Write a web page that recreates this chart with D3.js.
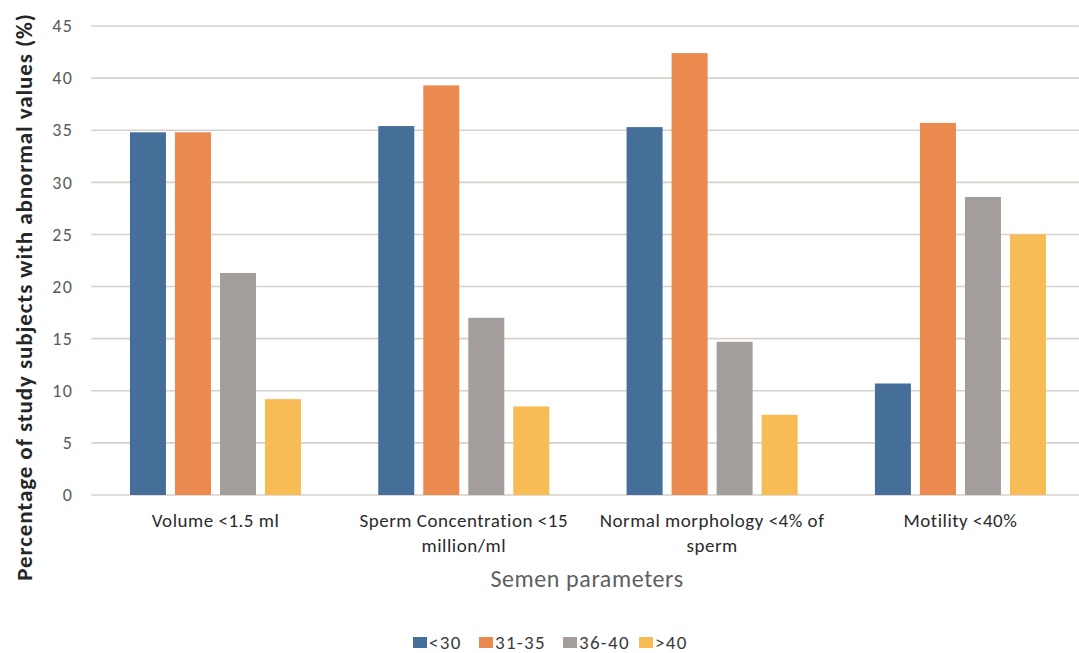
<!DOCTYPE html>
<html>
<head>
<meta charset="utf-8">
<script src="https://cdn.jsdelivr.net/npm/d3@7"></script>
<style>
  html, body { margin: 0; padding: 0; background: #ffffff; }
  svg { display: block; }
  text { font-family: Calibri, Carlito, Lato, "Open Sans", sans-serif; }
</style>
</head>
<body>
<svg id="chart" width="1079" height="653"></svg>
<script>
// Semen parameters (x categories), each label split into lines
const categories = [
  "Volume <1.5 ml",
  "Sperm Concentration <15 million/ml",
  "Normal morphology <4% of sperm",
  "Motility <40%"
];
const categoryLines = [
  ["Volume <1.5 ml"],
  ["Sperm Concentration <15", "million/ml"],
  ["Normal morphology <4% of", "sperm"],
  ["Motility <40%"]
];

// Age groups (series)
const ageGroups = ["<30", "31-35", "36-40", ">40"];
const colors = ["#456f98", "#ea8a4e", "#a39d9b", "#f8bc57"];

// Percentage of study subjects with abnormal values, per age group
const under30 = [34.8, 35.4, 35.3, 10.7];
const age31to35 = [34.8, 39.3, 42.4, 35.7];
const age36to40 = [21.3, 17.0, 14.7, 28.6];
const over40 = [9.2, 8.5, 7.7, 25.0];

const yTicks = [0, 5, 10, 15, 20, 25, 30, 35, 40, 45];

const seriesValues = [under30, age31to35, age36to40, over40];

const svg = d3.select("#chart");

const plot = { left: 91.3, right: 1084.6, top: 26, bottom: 495 };

const x0 = d3.scaleBand()
  .domain(categories)
  .range([plot.left, plot.right])
  .paddingInner(0)
  .paddingOuter(0);

const outer = 38.65;
const x1 = d3.scaleBand()
  .domain(ageGroups)
  .range([outer, x0.bandwidth() - outer])
  .paddingInner(0.2)
  .paddingOuter(0);

const y = d3.scaleLinear()
  .domain([0, 45])
  .range([plot.bottom, plot.top]);

// Horizontal gridlines
svg.append("g")
  .selectAll("line")
  .data(yTicks)
  .join("line")
  .attr("x1", plot.left)
  .attr("x2", plot.right)
  .attr("y1", d => y(d))
  .attr("y2", d => y(d))
  .attr("stroke", "#d8d0cc")
  .attr("stroke-width", 1.6);

// Y axis tick labels
const yAxis = d3.axisLeft(y).tickValues(yTicks).tickSize(0).tickPadding(0);
const yG = svg.append("g")
  .attr("transform", `translate(73,0)`)
  .call(yAxis);
yG.select(".domain").remove();
yG.selectAll("text")
  .attr("fill", "#595959")
  .attr("font-size", 18)
  .attr("letter-spacing", 1.2)
  .style("font-family", "Calibri, Carlito, Lato, sans-serif");

// Bars
const groups = svg.append("g")
  .selectAll("g")
  .data(categories)
  .join("g")
  .attr("transform", d => `translate(${x0(d)},0)`);

groups.selectAll("rect")
  .data((d, i) => ageGroups.map((g, j) => ({ group: g, value: seriesValues[j][i], color: colors[j] })))
  .join("rect")
  .attr("x", d => x1(d.group))
  .attr("width", x1.bandwidth())
  .attr("y", d => y(d.value))
  .attr("height", d => y(0) - y(d.value))
  .attr("fill", d => d.color);

// Category labels
const catLabels = svg.append("g")
  .selectAll("text")
  .data(categories)
  .join("text")
  .attr("x", d => x0(d) + x0.bandwidth() / 2)
  .attr("y", 527)
  .attr("text-anchor", "middle")
  .attr("fill", "#2b2b2b")
  .attr("font-size", 19)
  .attr("letter-spacing", 0.5);
catLabels.each(function (d, i) {
  const t = d3.select(this);
  categoryLines[i].forEach((line, k) => {
    t.append("tspan")
      .attr("x", x0(d) + x0.bandwidth() / 2)
      .attr("dy", k === 0 ? 0 : 25)
      .text(line);
  });
});

// X axis title
svg.append("text")
  .attr("x", 587)
  .attr("y", 587)
  .attr("text-anchor", "middle")
  .attr("fill", "#5f5f5f")
  .attr("font-size", 24)
  .attr("letter-spacing", 0.6)
  .text("Semen parameters");

// Y axis title
svg.append("text")
  .attr("transform", "translate(32,297) rotate(-90)")
  .attr("text-anchor", "middle")
  .attr("fill", "#262626")
  .attr("font-size", 23)
  .attr("font-weight", "bold")
  .attr("letter-spacing", 0.9)
  .text("Percentage of study subjects with abnormal values (%)");

// Legend
const legendX = [413, 479, 563, 639];
const legend = svg.append("g")
  .selectAll("g")
  .data(ageGroups)
  .join("g")
  .attr("transform", (d, i) => `translate(${legendX[i]},637)`);
legend.append("rect")
  .attr("width", 14)
  .attr("height", 11)
  .attr("fill", (d, i) => colors[i]);
legend.append("text")
  .attr("x", 16)
  .attr("y", 11.5)
  .attr("fill", "#3a3a3a")
  .attr("font-size", 19)
  .attr("letter-spacing", 1.3)
  .text(d => d);
</script>
</body>
</html>
